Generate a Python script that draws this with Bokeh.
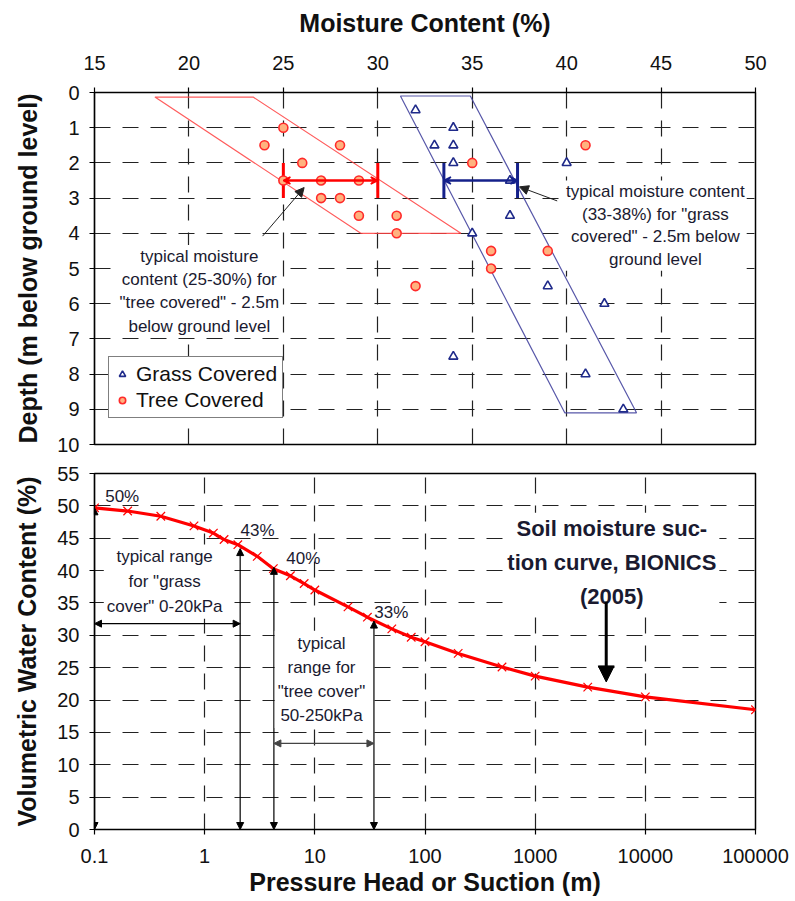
from bokeh.plotting import figure
from bokeh.layouts import column
from bokeh.models import (Range1d, FixedTicker, Label, Arrow, NormalHead, VeeHead,
                          Legend, LegendItem)
from bokeh.embed import file_html
from bokeh.resources import INLINE

FONT = "Liberation Sans"
TXT = "#1a1a30"
GRID_DASH = "16 12"

# ---------------- data: top panel (moisture content vs depth) ----------------
grass_mc = [32, 34, 33, 34, 34, 40, 37, 37, 35, 39, 42, 34, 41, 43]
grass_depth = [0.5, 1, 1.5, 1.5, 2, 2, 2.5, 3.5, 4, 5.5, 6, 7.5, 8, 9]
tree_mc = [25, 24, 28, 26, 35, 41, 25, 27, 29, 27, 28, 29, 31, 31, 36, 39, 36, 32]
tree_depth = [1, 1.5, 1.5, 2, 2, 1.5, 2.5, 2.5, 2.5, 3, 3, 3.5, 3.5, 4, 4.5, 4.5, 5, 5.5]
tree_band_mc = [18.2, 23.4, 34.4, 29.1]
tree_band_depth = [0.13, 0.13, 4.0, 4.0]
grass_band_mc = [31.2, 34.9, 43.7, 39.9]
grass_band_depth = [0.1, 0.1, 9.1, 9.1]
tree_typical = [25, 30]
grass_typical = [33.5, 37.4]
typical_depth = 2.5
mc_ticks = [15, 20, 25, 30, 35, 40, 45, 50]
depth_ticks = [0, 1, 2, 3, 4, 5, 6, 7, 8, 9, 10]

# ---------------- data: bottom panel (suction curve) ----------------
suction = [0.1, 0.2, 0.4, 0.8, 1.2, 1.5, 2, 3, 4.2, 6, 8, 10, 20, 30, 50, 75, 100,
           200, 500, 1000, 3000, 10000, 100000]
vwc = [49.7, 49.2, 48.4, 46.9, 45.8, 44.8, 44.0, 42.2, 40.3, 39.2, 38.0, 37.0, 34.4,
       32.8, 31.0, 29.7, 29.0, 27.2, 25.1, 23.7, 22.0, 20.5, 18.5]
suction_ticks = [0.1, 1, 10, 100, 1000, 10000, 100000]
suction_labels = ["0.1", "1", "10", "100", "1000", "10000", "100000"]
vwc_ticks = list(range(0, 56, 5))
pct_x = [0.125, 2.12, 5.5, 34.6]
pct_y = [51.4, 46.2, 41.9, 33.6]
pct_text = ["50%", "43%", "40%", "33%"]
range_x = [0.1, 2.1, 4.25, 34.4]
range_y = [49.7, 43.4, 40.5, 32.2]


def style_axes(p):
    for ax in p.axis:
        ax.axis_line_color = "black"
        ax.axis_line_width = 1.2
        ax.major_tick_line_color = "black"
        ax.major_tick_line_width = 1.2
        ax.major_tick_out = 5
        ax.major_tick_in = 0
        ax.minor_tick_line_color = None
        ax.major_label_text_font = FONT
        ax.major_label_text_font_size = "20px"
        ax.major_label_text_color = "#111111"
        ax.axis_label_text_font = FONT
        ax.axis_label_text_font_size = "25px"
        ax.axis_label_text_font_style = "bold"
        ax.axis_label_text_color = "#111111"
    for g in p.grid:
        g.grid_line_color = "#222222"
        g.grid_line_dash = GRID_DASH
        g.grid_line_width = 1.2
    p.outline_line_color = "black"
    p.outline_line_width = 1.5
    p.background_fill_color = "white"
    p.border_fill_color = "white"


# ================= top figure =================
p1 = figure(width=789, height=454, x_range=Range1d(15, 50), y_range=Range1d(10, 0),
            x_axis_location="above", output_backend="svg", toolbar_location=None,
            min_border_left=94, min_border_right=34, min_border_top=92, min_border_bottom=10)
style_axes(p1)
p1.xaxis.ticker = FixedTicker(ticks=mc_ticks)
p1.yaxis.ticker = FixedTicker(ticks=depth_ticks)
p1.xaxis.axis_label = "Moisture Content (%)"
p1.yaxis.axis_label = "Depth (m below ground level)"
p1.xaxis.major_label_standoff = 18
p1.xaxis.axis_label_standoff = 16
p1.yaxis.major_label_standoff = 10
p1.yaxis.axis_label_standoff = 12

p1.patch(tree_band_mc, tree_band_depth, fill_color=None, line_color="#ff4040",
         line_width=1.2, line_alpha=0.85)
p1.patch(grass_band_mc, grass_band_depth, fill_color=None, line_color="#4646a0",
         line_width=1.2, line_alpha=0.9)

# typical range bars
p1.add_layout(Arrow(x_start=tree_typical[0], y_start=typical_depth, x_end=tree_typical[1],
                    y_end=typical_depth, line_color="red", line_width=2.5,
                    start=VeeHead(size=7, line_color="red", fill_color="red", line_width=1.5),
                    end=VeeHead(size=7, line_color="red", fill_color="red", line_width=1.5)))
p1.segment(x0=tree_typical, y0=[typical_depth - 0.5] * 2, x1=tree_typical,
           y1=[typical_depth + 0.5] * 2, line_color="red", line_width=3)
p1.add_layout(Arrow(x_start=grass_typical[0], y_start=typical_depth, x_end=grass_typical[1],
                    y_end=typical_depth, line_color="#14208a", line_width=2.5,
                    start=VeeHead(size=7, line_color="#14208a", fill_color="#14208a", line_width=1.5),
                    end=VeeHead(size=7, line_color="#14208a", fill_color="#14208a", line_width=1.5)))
p1.segment(x0=grass_typical, y0=[typical_depth - 0.5] * 2, x1=grass_typical,
           y1=[typical_depth + 0.5] * 2, line_color="#14208a", line_width=3)

r_g = p1.scatter(grass_mc, grass_depth, marker="triangle", size=9, line_color="#1f2a8a",
                 fill_color="white", line_width=1.6)
r_t = p1.scatter(tree_mc, tree_depth, marker="circle", size=9, line_color="#ff2a2a",
                 fill_color="#ffb27f", line_width=1.6)

# pointer arrows
p1.add_layout(Arrow(x_start=23.9, y_start=4.08, x_end=26.1, y_end=2.7, line_color="#222222",
                    line_width=1, end=NormalHead(size=9, fill_color="#222222", line_color="#222222")))
p1.add_layout(Arrow(x_start=39.5, y_start=3.08, x_end=37.5, y_end=2.68, line_color="#222222",
                    line_width=1, end=NormalHead(size=9, fill_color="#222222", line_color="#222222")))

p1.add_layout(Label(x=20.55, y=5.65, text='typical moisture\ncontent (25-30%) for\n"tree covered" - 2.5m\nbelow ground level',
                    text_align="center", text_baseline="middle", text_font=FONT,
                    text_font_size="17px", text_color=TXT, text_line_height=1.22,
                    background_fill_color="white", padding=2))
p1.add_layout(Label(x=44.7, y=3.78, text='typical moisture content\n(33-38%) for "grass\ncovered" - 2.5m below\nground level',
                    text_align="center", text_baseline="middle", text_font=FONT,
                    text_font_size="17px", text_color=TXT, text_line_height=1.18,
                    background_fill_color="white", padding=2))

legend = Legend(items=[LegendItem(label="Grass Covered", renderers=[r_g]),
                       LegendItem(label="Tree Covered", renderers=[r_t])],
                location=(14, 26), border_line_color="black", border_line_width=1.5,
                label_text_font=FONT, label_text_font_size="21px", label_text_color="#111111",
                padding=5, spacing=2, margin=0, glyph_width=16, glyph_height=20,
                label_height=22, label_standoff=6, background_fill_alpha=1)
p1.add_layout(legend)

# ================= bottom figure =================
p2 = figure(width=789, height=447, x_axis_type="log", x_range=Range1d(0.1, 100000),
            y_range=Range1d(0, 55), output_backend="svg", toolbar_location=None,
            min_border_left=94, min_border_right=34, min_border_top=19, min_border_bottom=72)
style_axes(p2)
p2.xaxis.ticker = FixedTicker(ticks=suction_ticks)
p2.xaxis.major_label_overrides = {t: s for t, s in zip(suction_ticks, suction_labels)}
p2.yaxis.ticker = FixedTicker(ticks=vwc_ticks)
p2.xaxis.axis_label = "Pressure Head or Suction (m)"
p2.yaxis.axis_label = "Volumetric Water Content (%)"
p2.xaxis.major_label_standoff = 14
p2.xaxis.axis_label_standoff = 2
p2.yaxis.major_label_standoff = 10
p2.yaxis.axis_label_standoff = 13

# range arrows
for xv, yv in zip(range_x, range_y):
    p2.add_layout(Arrow(x_start=xv, y_start=0, x_end=xv, y_end=yv, line_color="black",
                        line_width=1.2,
                        start=NormalHead(size=7, fill_color="black", line_color="black"),
                        end=NormalHead(size=7, fill_color="black", line_color="black")))
p2.add_layout(Arrow(x_start=range_x[0], y_start=31.8, x_end=range_x[1], y_end=31.8,
                    line_color="black", line_width=1.2,
                    start=NormalHead(size=7), end=NormalHead(size=7)))
p2.add_layout(Arrow(x_start=range_x[2], y_start=13.3, x_end=range_x[3], y_end=13.3,
                    line_color="#444444", line_width=1.2,
                    start=NormalHead(size=7, fill_color="#444444", line_color="#444444"),
                    end=NormalHead(size=7, fill_color="#444444", line_color="#444444")))

p2.line(suction, vwc, line_color="red", line_width=3.2)
p2.scatter(suction, vwc, marker="x", size=12, line_color="red", line_width=1.2)

for xv, yv, t in zip(pct_x, pct_y, pct_text):
    p2.add_layout(Label(x=xv, y=yv, text=t, text_align="left", text_baseline="middle",
                        text_font=FONT, text_font_size="17px", text_color=TXT))

p2.add_layout(Label(x=0.433, y=38.3, text='typical range\nfor "grass\ncover" 0-20kPa',
                    text_align="center", text_baseline="middle", text_font=FONT,
                    text_font_size="17px", text_color=TXT, text_line_height=1.3,
                    background_fill_color="white", padding=3))
p2.add_layout(Label(x=11.5, y=23.2, text='typical\nrange for\n"tree cover"\n50-250kPa',
                    text_align="center", text_baseline="middle", text_font=FONT,
                    text_font_size="17px", text_color=TXT, text_line_height=1.27,
                    background_fill_color="white", padding=3))
p2.add_layout(Label(x=4966, y=41.3, text='Soil moisture suc-\ntion curve, BIONICS\n(2005)',
                    text_align="center", text_baseline="middle", text_font=FONT,
                    text_font_size="22px", text_font_style="bold", text_color=TXT,
                    text_line_height=1.36, background_fill_color="white", padding=3))
p2.add_layout(Arrow(x_start=4416, y_start=35.2, x_end=4416, y_end=22.8, line_color="black",
                    line_width=3, end=NormalHead(size=16, fill_color="black", line_color="black")))

layout = column(p1, p2, spacing=0)
open("out.html", "w").write(file_html(layout, INLINE))
